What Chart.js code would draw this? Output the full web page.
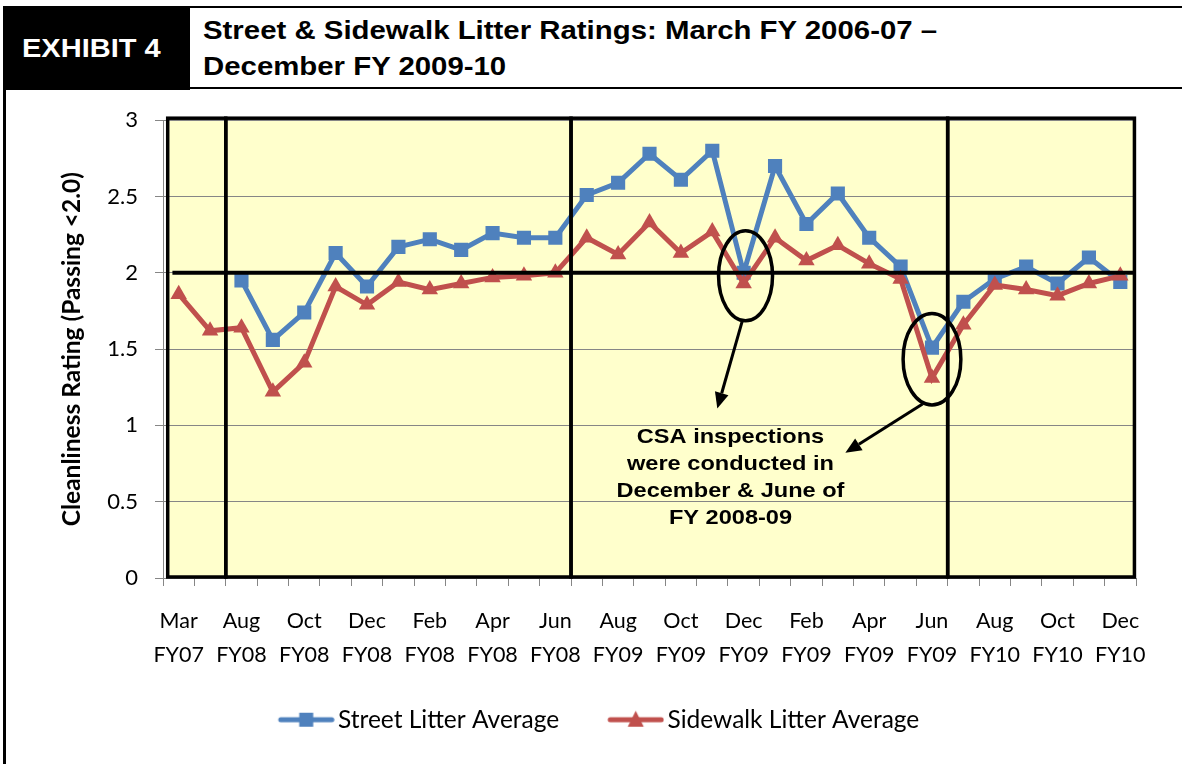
<!DOCTYPE html>
<html>
<head>
<meta charset="utf-8">
<script src="https://cdn.jsdelivr.net/npm/chart.js@4/dist/chart.umd.min.js"></script>
<style>
html,body{margin:0;padding:0;background:#fff;width:1182px;height:764px;overflow:hidden;}
#exh{position:absolute;left:3px;top:6px;width:187px;height:84px;background:#000;}
#exh span{position:absolute;left:19px;top:28px;color:#fff;font:bold 25px "Liberation Sans",Arial,sans-serif;
  line-height:28px;white-space:nowrap;transform:scaleX(1.16);transform-origin:0 0;}
#ttl{position:absolute;left:190px;top:6px;right:0;height:79px;border-top:2px solid #000;border-bottom:2px solid #000;}
#ttl span{position:absolute;left:13px;top:4px;font:bold 25px "Liberation Sans",Arial,sans-serif;line-height:36px;
  white-space:nowrap;color:#000;transform:scaleX(1.175);transform-origin:0 0;}
#frame{position:absolute;left:3px;top:88px;width:3px;height:676px;background:#000;}
#wrap{position:absolute;left:6px;top:90px;width:1176px;height:674px;}
</style>
</head>
<body>
<div id="exh"><span>EXHIBIT 4</span></div>
<div id="ttl"><span>Street &amp; Sidewalk Litter Ratings: March FY 2006-07 –<br>December FY 2009-10</span></div>
<div id="frame"></div>
<div id="wrap"><canvas id="c" width="1176" height="674"></canvas></div>
<script>
// ---- data ----
const categories = [
  ['Mar','FY07'],['Jun','FY07'],['Aug','FY08'],['Sep','FY08'],['Oct','FY08'],['Nov','FY08'],['Dec','FY08'],
  ['Jan','FY08'],['Feb','FY08'],['Mar','FY08'],['Apr','FY08'],['May','FY08'],['Jun','FY08'],
  ['Jul','FY09'],['Aug','FY09'],['Sep','FY09'],['Oct','FY09'],['Nov','FY09'],['Dec','FY09'],
  ['Jan','FY09'],['Feb','FY09'],['Mar','FY09'],['Apr','FY09'],['May','FY09'],['Jun','FY09'],
  ['Jul','FY10'],['Aug','FY10'],['Sep','FY10'],['Oct','FY10'],['Nov','FY10'],['Dec','FY10']
];
const streetLitter = [null,null,1.95,1.56,1.74,2.13,1.91,2.17,2.22,2.15,2.26,2.23,2.23,
  2.51,2.59,2.78,2.61,2.80,2.00,2.70,2.32,2.52,2.23,2.04,1.51,
  1.81,1.96,2.04,1.93,2.10,1.94];
const sidewalkLitter = [1.86,1.62,1.64,1.22,1.41,1.91,1.79,1.94,1.89,1.93,1.97,1.98,2.00,
  2.23,2.12,2.33,2.13,2.27,1.93,2.23,2.08,2.18,2.06,1.96,1.31,
  1.66,1.92,1.89,1.85,1.93,1.98];
const seriesNames = ['Street Litter Average','Sidewalk Litter Average'];
const yTicks = [0, 0.5, 1, 1.5, 2, 2.5, 3];
const passingLine = 2.0;
const noteLines = ['CSA inspections','were conducted in','December & June of','FY 2008-09'];
const highlighted = [18, 24]; // Dec FY09 and Jun FY09

const BLUE = '#4F81BD', RED = '#C0504D';
const SX = 1.15; // horizontal text stretch seen in the reference

// legend icons: line with marker, drawn at the right of a wider transparent canvas
function makeIcon(color, kind){
  const W = 104, H = 22, c = document.createElement('canvas');
  c.width = W; c.height = H;
  const g = c.getContext('2d');
  g.strokeStyle = color; g.lineWidth = 5; g.lineCap = 'round';
  g.beginPath(); g.moveTo(W-54, H/2); g.lineTo(W-3, H/2); g.stroke();
  g.fillStyle = color;
  const cx = W - 28.5;
  if (kind === 'rect') { g.fillRect(cx-7, H/2-7, 14, 14); }
  else { g.beginPath(); g.moveTo(cx, H/2-9); g.lineTo(cx+8, H/2+7); g.lineTo(cx-8, H/2+7); g.closePath(); g.fill(); }
  return c;
}
const icons = [makeIcon(BLUE,'rect'), makeIcon(RED,'tri')];

const bounds = [-0.35, 1.5, 12.5, 24.5, 30.45];
const overlay = {
  id: 'overlay',
  beforeDraw(chart){
    const {ctx, scales:{x, y}} = chart;
    ctx.save();
    ctx.fillStyle = '#FFFFCC';
    const yt = y.getPixelForValue(3) - 2, yb = y.getPixelForValue(0);
    ctx.fillRect(x.getPixelForValue(bounds[0]), yt, x.getPixelForValue(bounds[4]) - x.getPixelForValue(bounds[0]), yb - yt);
    ctx.restore();
  },
  afterDatasetsDraw(chart){
    const {ctx, scales:{x, y}} = chart;
    const yt = y.getPixelForValue(3) - 2, yb = y.getPixelForValue(0) - 1;
    ctx.save();
    ctx.strokeStyle = '#000';
    ctx.lineWidth = 3.5;
    for (let i = 0; i < bounds.length - 1; i++){
      const x0 = x.getPixelForValue(bounds[i]), x1 = x.getPixelForValue(bounds[i+1]);
      ctx.strokeRect(x0, yt, x1 - x0, yb - yt);
    }
    // passing line at 2.0
    ctx.lineWidth = 4;
    ctx.beginPath();
    ctx.moveTo(x.getPixelForValue(-0.2), y.getPixelForValue(passingLine));
    ctx.lineTo(x.getPixelForValue(30.45), y.getPixelForValue(passingLine));
    ctx.stroke();
    // ellipses around highlighted inspections
    ctx.lineWidth = 3.5;
    const ell = [[highlighted[0] + 0.06, 1.98, 0.86, 0.295], [highlighted[1], 1.434, 0.92, 0.30]];
    ell.forEach(([ix, v, rx, ry]) => {
      const cx = x.getPixelForValue(ix), cy = y.getPixelForValue(v);
      const pr = x.getPixelForValue(ix + rx) - cx, py = y.getPixelForValue(v - ry) - cy;
      ctx.beginPath(); ctx.ellipse(cx, cy, pr, py, 0, 0, Math.PI*2); ctx.stroke();
    });
    // arrows
    const arrows = [[17.95, 1.68, 17.16, 1.11], [23.7, 1.14, 21.24, 0.82]];
    ctx.lineWidth = 3;
    ctx.fillStyle = '#000';
    arrows.forEach(([a, b, c, d]) => {
      const x0 = x.getPixelForValue(a), y0 = y.getPixelForValue(b);
      const x1 = x.getPixelForValue(c), y1 = y.getPixelForValue(d);
      const ang = Math.atan2(y1 - y0, x1 - x0), L = 16, Wd = 7;
      const bx = x1 - L*Math.cos(ang), by = y1 - L*Math.sin(ang);
      ctx.beginPath(); ctx.moveTo(x0, y0); ctx.lineTo(bx, by); ctx.stroke();
      ctx.beginPath();
      ctx.moveTo(x1, y1);
      ctx.lineTo(bx + Wd*Math.sin(ang), by - Wd*Math.cos(ang));
      ctx.lineTo(bx - Wd*Math.sin(ang), by + Wd*Math.cos(ang));
      ctx.closePath(); ctx.fill();
    });
    // note text
    ctx.font = 'bold 20.5px "Liberation Sans", Arial, sans-serif';
    ctx.textAlign = 'center';
    ctx.textBaseline = 'middle';
    const noteY = [0.923, 0.747, 0.57, 0.393];
    noteLines.forEach((t, i) => {
      ctx.save();
      ctx.translate(x.getPixelForValue(17.58), y.getPixelForValue(noteY[i]));
      ctx.scale(SX, 1);
      ctx.fillText(t, 0, 0);
      ctx.restore();
    });
    ctx.restore();
  }
};

const LEFT_PAD = 17, BOTTOM_PAD = 22;
new Chart(document.getElementById('c'), {
  type: 'line',
  data: {
    labels: categories,
    datasets: [
      { label: seriesNames[0], data: streetLitter, borderColor: BLUE, backgroundColor: BLUE,
        borderWidth: 5, pointStyle: 'rect', pointRadius: 10, pointHoverRadius: 10,
        pointBorderWidth: 0, order: 2, spanGaps: false },
      { label: seriesNames[1], data: sidewalkLitter, borderColor: RED, backgroundColor: RED,
        borderWidth: 5, pointStyle: 'triangle', pointRadius: 9.5, pointHoverRadius: 9.5,
        pointBorderWidth: 0, order: 1 }
    ]
  },
  options: {
    responsive: false,
    animation: false,
    events: [],
    layout: { padding: { top: 30, right: 46, left: LEFT_PAD, bottom: BOTTOM_PAD } },
    scales: {
      x: {
        type: 'category',
        offset: true,
        grid: { offset: true, drawOnChartArea: false, drawTicks: true, tickLength: 8, color: '#868686', lineWidth: 1 },
        border: { color: '#868686', width: 1 },
        ticks: {
          autoSkip: false, maxRotation: 0, minRotation: 0, padding: 18, color: '#000',
          font: { family: 'Lato', size: 21.5, lineHeight: '34px' },
          callback(v, i){ return i % 2 === 0 ? this.getLabelForValue(v) : ''; }
        },
        afterFit(s){ s.height = s.chart.height - BOTTOM_PAD - (s.chart.legend ? s.chart.legend.height : 0) - 488; }
      },
      y: {
        min: 0, max: 3,
        afterBuildTicks(s){ s.ticks = yTicks.map(v => ({ value: v })); },
        grid: { color: '#868686', lineWidth: 1, tickLength: 8 },
        border: { color: '#868686', width: 1 },
        ticks: { padding: 17, color: '#000', font: { family: 'Lato', size: 22 },
          callback: v => String(v) },
        title: { display: true, text: 'Cleanliness Rating (Passing <2.0)', color: '#000',
          font: { family: 'Lato', size: 24.5, weight: 'bold' }, padding: { top: 34, bottom: 0 } },
        afterFit(s){ s.width = 157 - LEFT_PAD; }
      }
    },
    plugins: {
      tooltip: { enabled: false },
      legend: {
        position: 'bottom',
        labels: {
          usePointStyle: true, pointStyleWidth: 86, padding: 10, color: '#000',
          font: { family: 'Lato', size: 24.5 },
          sort: (a, b) => a.datasetIndex - b.datasetIndex,
          generateLabels(chart){
            const items = Chart.defaults.plugins.legend.labels.generateLabels(chart);
            items.forEach(it => { it.pointStyle = icons[it.datasetIndex]; });
            return items;
          }
        }
      }
    }
  },
  plugins: [overlay]
});
</script>
</body>
</html>
